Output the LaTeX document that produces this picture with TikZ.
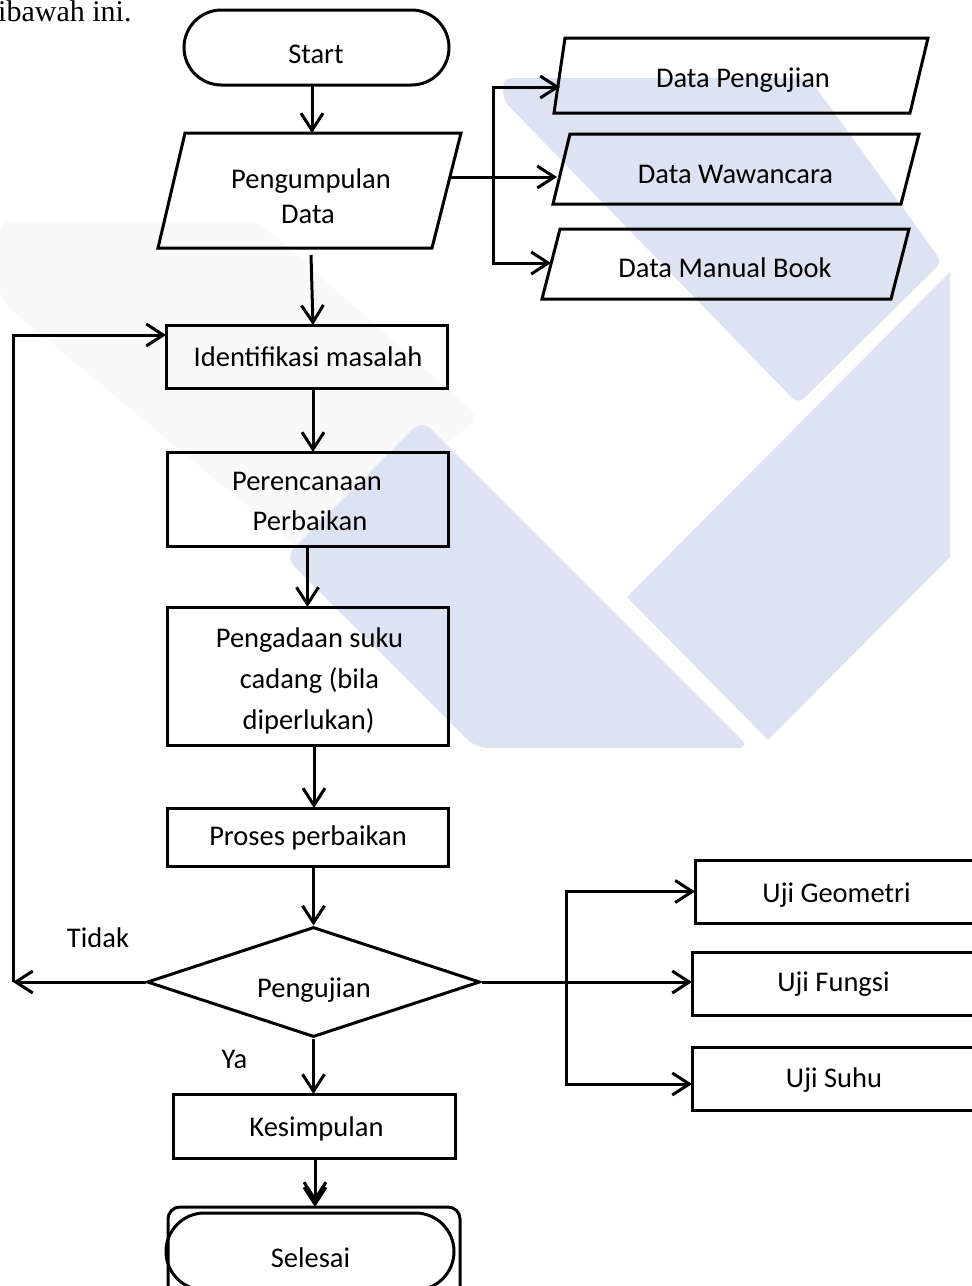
\documentclass[tikz,border=0pt]{standalone}
\usepackage{fontspec}
\setmainfont{Carlito}
\newfontfamily\docserif{Liberation Serif}
\usetikzlibrary{arrows.meta,shapes.geometric,calc}
\definecolor{wm}{RGB}{220,227,242}
\definecolor{wmg}{RGB}{249,249,250}
\begin{document}
\begin{tikzpicture}[x=1pt,y=-1pt,
  lw/.style={line width=3pt},
  shp/.style={draw,lw,rectangle,inner sep=0pt,outer sep=0pt},
  lbl/.style={anchor=base,inner sep=0pt,font=\fontsize{28.5pt}{34pt}\selectfont},
  arr/.style={lw,-{Straight Barb[length=17pt,width=22pt]}},
  ln/.style={lw},
]
\useasboundingbox (0,0) rectangle (972,1286);
\clip (0,0) rectangle (972,1286);
\fill[white] (0,0) rectangle (972,1286);
% watermark
\fill[wmg, rounded corners=12pt] (0,221) -- (258,221) -- (480,418) -- (300,550) -- (0,300) -- cycle;
\fill[wm, rounded corners=8pt] (503,78) -- (809,78) -- (942,262) -- (798,404) -- (503,100) -- cycle;
\fill[wm] (950,272) -- (627,597) -- (768,740) -- (950,557) -- cycle;
\fill[wm, rounded corners=12pt] (422,420) -- (285,557) -- (476,748) -- (750,748) -- cycle;

% heading fragment
\node[anchor=base west,inner sep=0pt,font=\docserif\fontsize{30pt}{36pt}\selectfont] (head) at (-2,21) {ibawah ini.};

% shapes
\node[shp, rounded corners=37.5pt, minimum width=265pt, minimum height=75pt] (start) at (316.5,47.5) {};
\draw[lw, line join=miter] (185,133) -- (461,133) -- (432,248) -- (158,248) -- cycle;
\coordinate (pdN) at (312,133);
\coordinate (pdS) at (311,255);
\coordinate (pdE) at (450,177);
\draw[lw] (565,38) -- (928,38) -- (910,113) -- (554,113) -- cycle;
\draw[lw] (570,134) -- (919,134) -- (901,204) -- (553,204) -- cycle;
\draw[lw] (560,229) -- (909,229) -- (891,299) -- (542,299) -- cycle;
\coordinate (dpW) at (560,87);
\coordinate (dwW) at (557,177);
\coordinate (dmW) at (551,263);
\coordinate (jM) at (493,177);

\node[shp, minimum width=281pt, minimum height=63pt] (ident) at (306.5,356.5) {};
\node[shp, minimum width=281pt, minimum height=94pt] (perenc) at (307.5,499) {};
\node[shp, minimum width=281pt, minimum height=138pt] (pengad) at (307.5,676) {};
\node[shp, minimum width=281pt, minimum height=58pt] (proses) at (307.5,837) {};
\node[draw, lw, diamond, inner sep=0pt, minimum width=333pt, minimum height=110pt] (peng) at (313.5,982) {};
\node[shp, minimum width=282pt, minimum height=64pt] (kes) at (314,1126) {};
\node[shp, rounded corners=12pt, minimum width=292pt, minimum height=130pt] (selbox) at (314,1272) {};
\node[shp, rounded corners=38.5pt, minimum width=288pt, minimum height=77pt] (sel) at (310,1251.5) {};
\node[shp, minimum width=355pt, minimum height=63pt] (uji1) at (872.5,891.5) {};
\node[shp, minimum width=358pt, minimum height=63pt] (uji2) at (871,983.5) {};
\node[shp, minimum width=358pt, minimum height=63pt] (uji3) at (871,1078.5) {};
\coordinate (fbB) at (13,982);
\coordinate (fbT) at (13,335);
\coordinate (jU) at (566,982);

% texts
\node[lbl] (tStart) at (316,63) {Start};
\node[lbl] (tPd1) at (311,188) {Pengumpulan};
\node[lbl] (tPd2) at (308,223) {Data};
\node[lbl] (tDp) at (743,87) {Data Pengujian};
\node[lbl] (tDw) at (735.5,183) {Data Wawancara};
\node[lbl] (tDm) at (725,277) {Data Manual Book};
\node[lbl] (tId) at (308,366) {Identifikasi masalah};
\node[lbl] (tPr1) at (307,490) {Perencanaan};
\node[lbl] (tPr2) at (310,530) {Perbaikan};
\node[lbl] (tPa1) at (309.5,647) {Pengadaan suku};
\node[lbl] (tPa2) at (309.5,688) {cadang (bila};
\node[lbl] (tPa3) at (308.5,729) {diperlukan)};
\node[lbl] (tPp) at (308,845) {Proses perbaikan};
\node[lbl] (tPg) at (314,997) {Pengujian};
\node[lbl] (tTd) at (98,947) {Tidak};
\node[lbl] (tYa) at (234.5,1068) {Ya};
\node[lbl] (tKs) at (316.5,1136) {Kesimpulan};
\node[lbl] (tSl) at (310.5,1267) {Selesai};
\node[lbl] (tU1) at (836.5,902) {Uji Geometri};
\node[lbl] (tU2) at (833.5,991) {Uji Fungsi};
\node[lbl] (tU3) at (834,1087) {Uji Suhu};

% connectors
\draw[arr] (start.south -| pdN) -- (pdN);
\draw[arr] (pdS) -- ([xshift=6.5pt]ident.north);
\draw[arr] (pdE) -- (dwW);
\draw[arr] (jM) |- (dpW);
\draw[arr] (jM) |- (dmW);
\draw[arr] ([xshift=6.5pt]ident.south) -- ([xshift=5.5pt]perenc.north);
\draw[arr] (perenc.south) -- (pengad.north);
\draw[arr] ([xshift=6.5pt]pengad.south) -- ([xshift=6.5pt]proses.north);
\draw[arr] (proses.south -| peng.north) -- (peng.north);
\draw[arr] (peng.south) -- (peng.south |- kes.north);
\draw[arr] ([xshift=1pt]kes.south) -- ([xshift=1pt]kes.south |- selbox.north);
\draw[arr, shorten >=5pt] ([xshift=1pt]kes.south) -- ([xshift=1pt]kes.south |- selbox.north);
\draw[arr] (peng.west) -- (fbB);
\draw[arr] (fbB) -- (fbT) -- (fbT -| ident.west);
\draw[arr] (peng.east) -- (peng.east -| uji2.west);
\draw[arr] (jU) |- (uji1.west);
\draw[arr] (jU) |- ([yshift=-5.5pt]uji3.west);
\end{tikzpicture}
\end{document}
